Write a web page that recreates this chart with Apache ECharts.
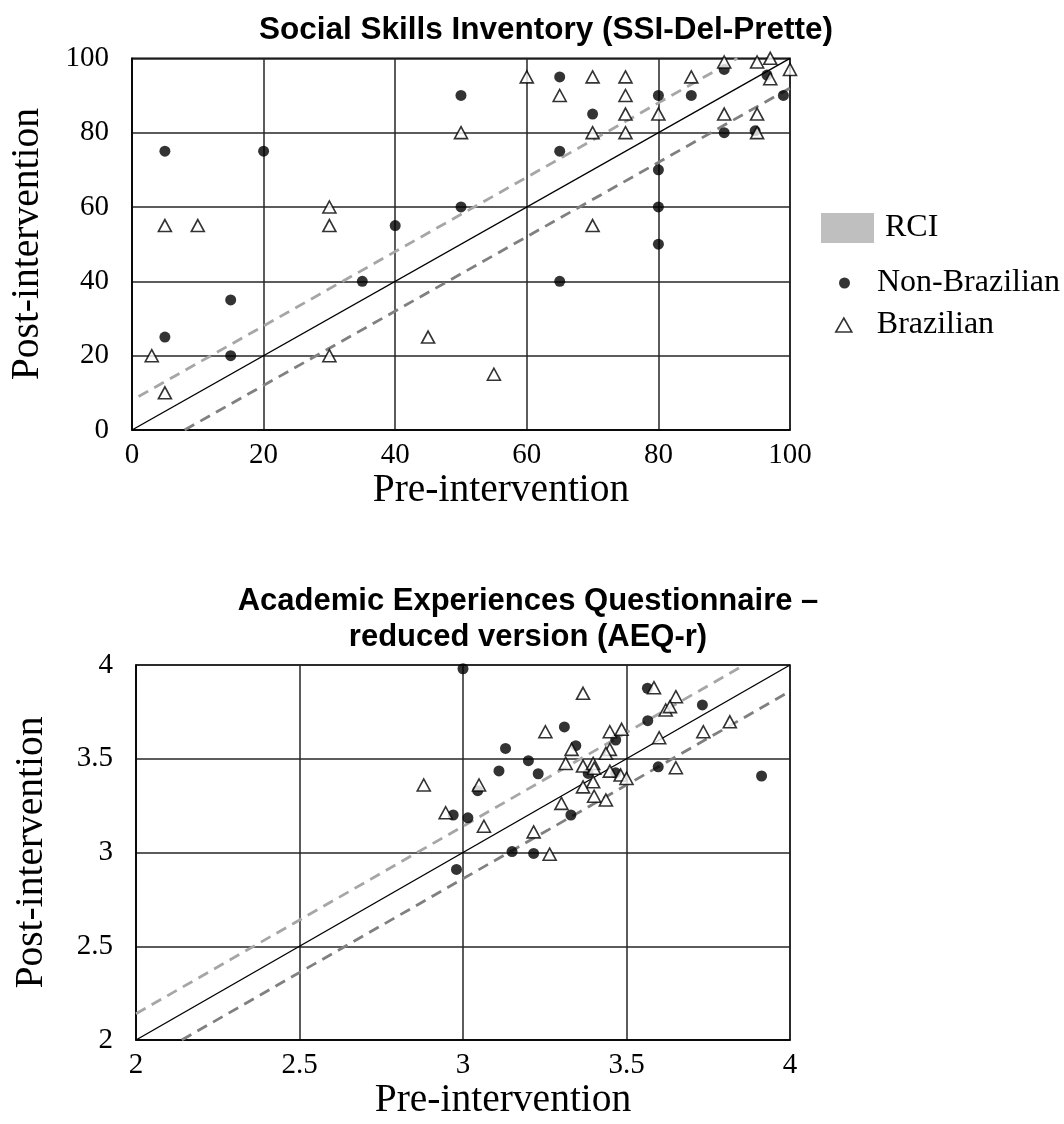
<!DOCTYPE html>
<html><head><meta charset="utf-8">
<script src="https://cdn.jsdelivr.net/npm/echarts@6/dist/echarts.min.js"></script>
<style>html,body{margin:0;padding:0;background:#fff}#c{width:1064px;height:1124px}</style>
</head><body><div id="c"></div>
<script>
// ---------- Chart 1: SSI-Del-Prette ----------
const ssiNonBrazilian = [[5,75],[20,75],[40,55],[50,90],[50,60],[35,40],[15,35],[5,25],[15,20],[80,50],[65,40],[65,95],[90,97],[96.5,95.5],[80,90],[85,90],[99,90],[70,85],[90,80],[94.7,80.5],[65,75],[80,70],[80,60]];
const ssiBrazilian = [[5,55],[10,55],[30,60],[30,55],[50,80],[3,20],[30,20],[5,10],[45,25],[70,55],[55,15],[60,95],[70,95],[75,95],[85,95],[90,99],[95,99],[97,100],[97,94.5],[100,97],[65,90],[75,90],[75,85],[80,85],[90,85],[95,85],[70,80],[75,80],[95,80]];
const ssiIdentity = [[0,0],[100,100]];
const ssiRciUpper = [[1,9],[92,100]];
const ssiRciLower = [[8,0],[100,92]];
const ssiTicks = [0,20,40,60,80,100];

// ---------- Chart 2: AEQ-r ----------
const aeqNonBrazilian = [[3.0,3.98],[3.31,3.67],[3.13,3.555],[3.345,3.57],[3.2,3.49],[3.11,3.435],[3.23,3.42],[3.045,3.33],[2.97,3.2],[3.015,3.185],[3.33,3.2],[3.383,3.422],[3.564,3.876],[3.732,3.787],[3.565,3.703],[3.467,3.6],[3.467,3.425],[3.597,3.457],[3.913,3.408],[3.216,2.995],[3.15,3.005],[2.98,2.91]];
const aeqBrazilian = [[3.367,3.849],[3.252,3.644],[3.332,3.55],[3.314,3.475],[2.88,3.36],[3.049,3.36],[2.947,3.212],[3.064,3.14],[3.301,3.262],[3.216,3.11],[3.367,3.461],[3.398,3.475],[3.401,3.449],[3.398,3.377],[3.367,3.35],[3.401,3.30],[3.584,3.879],[3.651,3.831],[3.62,3.76],[3.633,3.778],[3.816,3.697],[3.6,3.612],[3.735,3.644],[3.449,3.644],[3.485,3.657],[3.449,3.55],[3.437,3.529],[3.449,3.434],[3.482,3.413],[3.5,3.395],[3.437,3.28],[3.651,3.452],[3.265,2.991]];
const aeqIdentity = [[2,2],[4,4]];
const aeqRciUpper = [[2,2.14],[3.86,4]];
const aeqRciLower = [[2.14,2],[4,3.86]];
const aeqTicks = [2,2.5,3,3.5,4];

const titles = ['Social Skills Inventory (SSI-Del-Prette)', 'Academic Experiences Questionnaire \u2013\nreduced version (AEQ-r)'];
const axisNames = {x:'Pre-intervention', y:'Post-intervention'};
const legendNames = ['RCI','Non-Brazilian','Brazilian'];

const SERIF = "'Liberation Serif','Times New Roman',serif";
const TITLEFONT = "'Liberation Sans','Arial',sans-serif";

function axis(ticks, name, isX, gridIndex){
  return {
    type:'value', gridIndex,
    min:ticks[0], max:ticks[ticks.length-1], interval:ticks[1]-ticks[0],
    name, nameLocation:'middle', nameGap: isX ? 33 : 84,
    nameTextStyle:{fontFamily:SERIF, fontSize:39.5, color:'#000', padding: isX ? [0,0,0,80] : 0},
    axisLine:{show:true, lineStyle:{color:'#000', width:1.5}},
    axisTick:{show:false},
    axisLabel:{fontFamily:SERIF, fontSize:29, color:'#000', margin: isX ? 11 : 23},
    splitLine:{show:true, lineStyle:{color:'#262626', width:1.5}}
  };
}

const chart = echarts.init(document.getElementById('c'), null, {renderer:'canvas'});

function seriesFor(g, non, bra, ident, up, low){
  return [
    {type:'line', name:'identity', xAxisIndex:g, yAxisIndex:g, data:ident, symbol:'none', silent:true,
      lineStyle:{color:'#000', width:1.4}, z:2},
    {type:'line', name:'RCI', xAxisIndex:g, yAxisIndex:g, data:up, symbol:'none', silent:true,
      itemStyle:{color:'#bfbfbf'}, lineStyle:{color:'#a6a6a6', width:2.8, type:[11,7]}, z:2},
    {type:'line', name:'RCI', xAxisIndex:g, yAxisIndex:g, data:low, symbol:'none', silent:true,
      itemStyle:{color:'#bfbfbf'}, lineStyle:{color:'#808080', width:2.8, type:[11,7]}, z:2},
    {type:'scatter', name:'Non-Brazilian', xAxisIndex:g, yAxisIndex:g, data:non, symbol:'circle', symbolSize:11,
      itemStyle:{color:'#000'}, z:4},
    {type:'scatter', name:'Brazilian', xAxisIndex:g, yAxisIndex:g, data:bra, symbol:'triangle', symbolSize:[13,12],
      itemStyle:{color:'#fff', borderColor:'#000', borderWidth:1.6}, z:5}
  ];
}

chart.setOption({
  animation:false,
  backgroundColor:'#fff',
  title:[
    {text:titles[0], left:541, textAlign:'center', top:9,
      textStyle:{fontFamily:TITLEFONT, fontWeight:'bold', fontSize:31.5, color:'#000'}},
    {text:titles[1], left:523, textAlign:'center', top:578,
      textStyle:{fontFamily:TITLEFONT, fontWeight:'bold', fontSize:31, lineHeight:36, color:'#000'}}
  ],
  grid:[
    {left:131.7, top:58.3, width:658.3, height:371.7, show:true, borderColor:'#000', borderWidth:1.5},
    {left:136, top:665, width:654, height:375, show:true, borderColor:'#000', borderWidth:1.5}
  ],
  xAxis:[axis(ssiTicks, axisNames.x, true, 0), axis(aeqTicks, axisNames.x, true, 1)],
  yAxis:[axis(ssiTicks, axisNames.y, false, 0), axis(aeqTicks, axisNames.y, false, 1)],
  legend:[
    {data:[{name:legendNames[0], icon:'rect', itemStyle:{color:'#bfbfbf'}}], left:816, top:207, itemWidth:53, itemHeight:30,
      textStyle:{fontFamily:SERIF, fontSize:32, color:'#000', padding:[0,0,0,6]}},
    {data:[{name:legendNames[1], icon:'circle', itemStyle:{color:'#000'}}], left:834, top:262, itemWidth:11, itemHeight:11,
      textStyle:{fontFamily:SERIF, fontSize:32, color:'#000', padding:[0,0,0,22]}},
    {data:[{name:legendNames[2], icon:'triangle', itemStyle:{color:'#fff', borderColor:'#000', borderWidth:1.6}}], left:830, top:304, itemWidth:16, itemHeight:14,
      textStyle:{fontFamily:SERIF, fontSize:32, color:'#000', padding:[0,0,0,20]}}
  ],
  series:[].concat(
    seriesFor(0, ssiNonBrazilian, ssiBrazilian, ssiIdentity, ssiRciUpper, ssiRciLower),
    seriesFor(1, aeqNonBrazilian, aeqBrazilian, aeqIdentity, aeqRciUpper, aeqRciLower)
  )
});
</script>
</body></html>
